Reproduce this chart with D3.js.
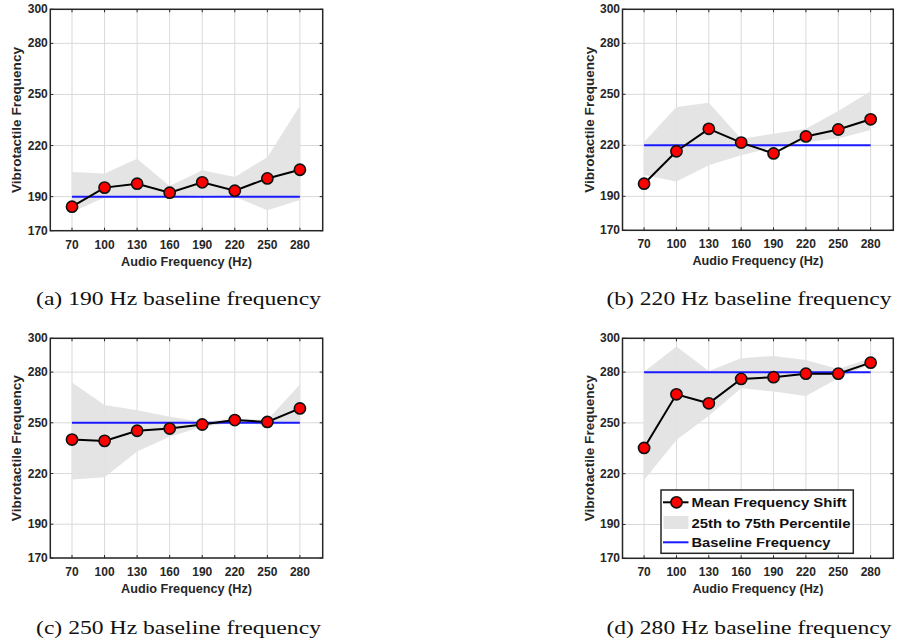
<!DOCTYPE html>
<html><head><meta charset="utf-8">
<script src="https://cdn.jsdelivr.net/npm/d3@7"></script>
<style>html,body{margin:0;padding:0;background:#fff;}svg{display:block;}</style>
</head><body>
<svg id="chart" width="897" height="643"></svg>
<script>
// ---------- data ----------
const audioFreqs = [70, 100, 130, 160, 190, 220, 250, 280];
const yTicks = [170, 190, 220, 250, 280, 300];
const baselines = [190, 220, 250, 280];
const captions = ["(a) 190 Hz baseline frequency", "(b) 220 Hz baseline frequency",
                  "(c) 250 Hz baseline frequency", "(d) 280 Hz baseline frequency"];

const meanA  = [184.1, 195.3, 197.6, 192.3, 198.4, 193.5, 200.7, 205.8];
const lowerA = [181.0, 189.5, 189.0, 190.0, 191.0, 190.0, 182.0, 188.0];
const upperA = [204.5, 203.6, 212.3, 196.2, 205.5, 201.6, 213.2, 243.3];

const meanB  = [197.4, 216.5, 229.7, 221.6, 215.2, 225.2, 229.3, 235.3];
const lowerB = [202.6, 198.7, 208.3, 214.2, 219.0, 222.0, 224.0, 229.0];
const upperB = [222.0, 242.6, 245.1, 223.9, 226.8, 229.7, 240.2, 251.8];

const meanC  = [240.1, 239.3, 245.3, 246.6, 249.0, 251.6, 250.5, 258.5];
const lowerC = [216.4, 217.8, 233.0, 241.7, 247.6, 250.2, 248.6, 250.6];
const upperC = [273.9, 260.5, 257.5, 253.6, 250.6, 252.6, 251.6, 272.7];

const meanD  = [235.2, 266.9, 261.6, 276.0, 277.0, 279.1, 279.1, 285.6];
const lowerD = [216.3, 239.9, 254.3, 270.5, 268.5, 265.9, 276.4, 284.6];
const upperD = [280.3, 295.1, 280.7, 288.2, 289.6, 287.2, 281.9, 288.2];

const legendLabels = ["Mean Frequency Shift", "25th to 75th Percentile", "Baseline Frequency"];
const xTitle = "Audio Frequency (Hz)";
const yTitle = "Vibrotactile Frequency";

// ---------- layout ----------
const panels = [
  {mean: meanA, lower: lowerA, upper: upperA, base: baselines[0], cap: captions[0], x0: 50.3, x1: 322.7, y0: 9.3, y1: 230.7, capX: 178.5, capY: 305, legend: false},
  {mean: meanB, lower: lowerB, upper: upperB, base: baselines[1], cap: captions[1], x0: 622.5, x1: 893.3, y0: 9.3, y1: 230.3, capX: 749, capY: 305, legend: false},
  {mean: meanC, lower: lowerC, upper: upperC, base: baselines[2], cap: captions[2], x0: 50.3, x1: 322.7, y0: 338.3, y1: 558.0, capX: 178.5, capY: 634, legend: false},
  {mean: meanD, lower: lowerD, upper: upperD, base: baselines[3], cap: captions[3], x0: 622.5, x1: 893.3, y0: 338.3, y1: 558.3, capX: 749, capY: 634, legend: true}
];

const svg = d3.select("#chart");
const txt = "#262626";
const fontSans = "Liberation Sans, Arial, sans-serif";

panels.forEach(p => {
  const x = d3.scaleLinear().domain([50, 301]).range([p.x0, p.x1]);
  const y = d3.scaleLinear().domain([170, 300]).range([p.y1, p.y0]);
  const g = svg.append("g");

  // grid
  g.append("g").selectAll("line").data(audioFreqs).join("line")
    .attr("x1", d => x(d)).attr("x2", d => x(d)).attr("y1", p.y0).attr("y2", p.y1)
    .attr("stroke", "#d9d9d9").attr("stroke-width", 1);
  g.append("g").selectAll("line").data(yTicks).join("line")
    .attr("x1", p.x0).attr("x2", p.x1).attr("y1", d => y(d)).attr("y2", d => y(d))
    .attr("stroke", "#d9d9d9").attr("stroke-width", 1);

  // band
  const band = audioFreqs.map((f, i) => ({f, lo: p.lower[i], hi: p.upper[i]}));
  g.append("path").datum(band)
    .attr("d", d3.area().x(d => x(d.f)).y0(d => y(d.lo)).y1(d => y(d.hi)))
    .attr("fill", "#e3e3e3").attr("fill-opacity", 0.95);

  // baseline
  g.append("line")
    .attr("x1", x(audioFreqs[0])).attr("x2", x(audioFreqs[audioFreqs.length - 1]))
    .attr("y1", y(p.base)).attr("y2", y(p.base))
    .attr("stroke", "#1a1aff").attr("stroke-width", 2);

  // mean line
  const pts = audioFreqs.map((f, i) => ({f, v: p.mean[i]}));
  g.append("path").datum(pts)
    .attr("d", d3.line().x(d => x(d.f)).y(d => y(d.v)))
    .attr("fill", "none").attr("stroke", "#000").attr("stroke-width", 2);
  g.append("g").selectAll("circle").data(pts).join("circle")
    .attr("cx", d => x(d.f)).attr("cy", d => y(d.v)).attr("r", 5.6)
    .attr("fill", "#ff0000").attr("stroke", "#111").attr("stroke-width", 1.6);

  // frame
  g.append("rect").attr("x", p.x0).attr("y", p.y0)
    .attr("width", p.x1 - p.x0).attr("height", p.y1 - p.y0)
    .attr("fill", "none").attr("stroke", txt).attr("stroke-width", 1.5);

  // ticks (inside, all four sides)
  const tl = 3;
  g.append("g").selectAll("line").data(audioFreqs).join("line")
    .attr("x1", d => x(d)).attr("x2", d => x(d)).attr("y1", p.y1).attr("y2", p.y1 - tl)
    .attr("stroke", txt).attr("stroke-width", 1);
  g.append("g").selectAll("line").data(audioFreqs).join("line")
    .attr("x1", d => x(d)).attr("x2", d => x(d)).attr("y1", p.y0).attr("y2", p.y0 + tl)
    .attr("stroke", txt).attr("stroke-width", 1);
  g.append("g").selectAll("line").data(yTicks).join("line")
    .attr("x1", p.x0).attr("x2", p.x0 + tl).attr("y1", d => y(d)).attr("y2", d => y(d))
    .attr("stroke", txt).attr("stroke-width", 1);
  g.append("g").selectAll("line").data(yTicks).join("line")
    .attr("x1", p.x1).attr("x2", p.x1 - tl).attr("y1", d => y(d)).attr("y2", d => y(d))
    .attr("stroke", txt).attr("stroke-width", 1);

  // tick labels
  g.append("g").selectAll("text").data(audioFreqs).join("text")
    .attr("x", d => x(d)).attr("y", p.y1 + 18)
    .attr("text-anchor", "middle")
    .attr("font-family", fontSans).attr("font-weight", "bold").attr("font-size", 12)
    .attr("fill", txt).text(d => d);
  g.append("g").selectAll("text").data(yTicks).join("text")
    .attr("x", p.x0 - 2.5).attr("y", d => y(d) + 4)
    .attr("text-anchor", "end")
    .attr("font-family", fontSans).attr("font-weight", "bold").attr("font-size", 12)
    .attr("fill", txt).text(d => d);

  // axis titles
  g.append("text")
    .attr("x", (p.x0 + p.x1) / 2).attr("y", p.y1 + 35)
    .attr("text-anchor", "middle")
    .attr("font-family", fontSans).attr("font-weight", "bold").attr("font-size", 12.5)
    .attr("textLength", 131).attr("lengthAdjust", "spacingAndGlyphs")
    .attr("fill", txt).text(xTitle);
  const yc = (p.y0 + p.y1) / 2;
  g.append("text")
    .attr("transform", `translate(${p.x0 - 29},${yc}) rotate(-90)`)
    .attr("text-anchor", "middle")
    .attr("font-family", fontSans).attr("font-weight", "bold").attr("font-size", 12.5)
    .attr("textLength", 146).attr("lengthAdjust", "spacingAndGlyphs")
    .attr("fill", txt).text(yTitle);

  // caption
  svg.append("text")
    .attr("x", p.capX).attr("y", p.capY)
    .attr("text-anchor", "middle")
    .attr("font-family", "'Liberation Serif', 'Times New Roman', serif").attr("font-size", 19.5)
    .attr("textLength", 285).attr("lengthAdjust", "spacingAndGlyphs")
    .attr("fill", "#111").text(p.cap);

  // legend
  if (p.legend) {
    const lx = 661, ly = 490, lw = 192.3, lh = 63.3;
    const lg = g.append("g");
    lg.append("rect").attr("x", lx).attr("y", ly).attr("width", lw).attr("height", lh)
      .attr("fill", "#fff").attr("stroke", txt).attr("stroke-width", 1.5);
    const rows = [502.3, 522.5, 542.3];
    // row 1
    lg.append("line").attr("x1", 663).attr("x2", 688.5).attr("y1", rows[0]).attr("y2", rows[0])
      .attr("stroke", "#000").attr("stroke-width", 2);
    lg.append("circle").attr("cx", 676.5).attr("cy", rows[0]).attr("r", 5.6)
      .attr("fill", "#ff0000").attr("stroke", "#111").attr("stroke-width", 1.6);
    // row 2
    lg.append("rect").attr("x", 663.5).attr("y", rows[1] - 6.5).attr("width", 25).attr("height", 13)
      .attr("fill", "#e3e3e3");
    // row 3
    lg.append("line").attr("x1", 663).attr("x2", 688.5).attr("y1", rows[2]).attr("y2", rows[2])
      .attr("stroke", "#1a1aff").attr("stroke-width", 2);
    const tls = [155, 159, 139];
    lg.selectAll("text.lt").data(legendLabels).join("text")
      .attr("x", 691.5).attr("y", (d, i) => rows[i] + 5)
      .attr("font-family", fontSans).attr("font-weight", "bold").attr("font-size", 13.5)
      .attr("textLength", (d, i) => tls[i]).attr("lengthAdjust", "spacingAndGlyphs")
      .attr("fill", "#111").text(d => d);
  }
});
</script>
</body></html>
